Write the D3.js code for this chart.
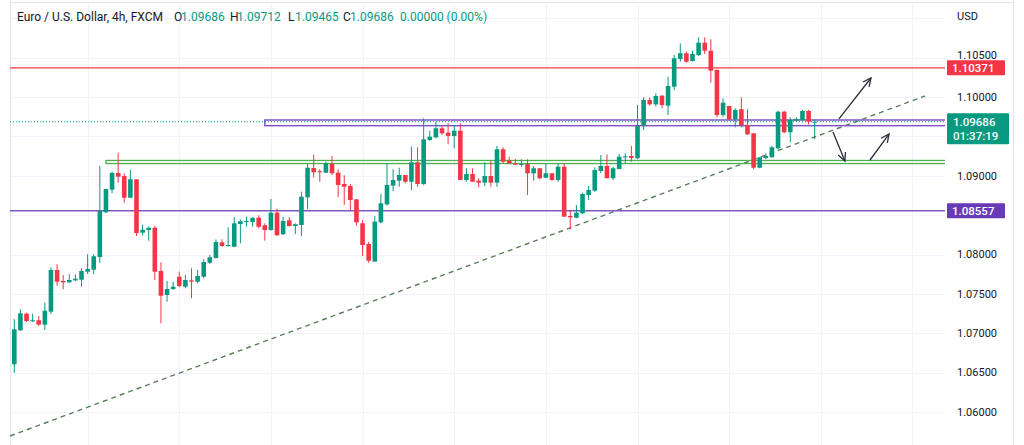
<!DOCTYPE html>
<html><head><meta charset="utf-8">
<script src="https://cdn.jsdelivr.net/npm/d3@7"></script>
<style>
body{margin:0;background:#fff;}
svg{display:block;font-family:Roboto,"Noto Sans",sans-serif;}
</style>
</head><body>
<svg id="c" width="1024" height="445"></svg>
<script>
// ---- data (EUR/USD 4h, FXCM) ----
const open = [
1.06606,1.07038,1.07248,1.07152,1.07165,1.07109,1.07274,1.07803,1.07664,1.07647,
1.07672,1.07680,1.07782,1.07807,1.07968,1.08536,1.08823,1.09035,1.08997,1.08721,
1.08955,1.08277,1.08311,1.08340,1.07791,1.07486,1.07562,1.07718,1.07591,1.07672,
1.07655,1.07718,1.07896,1.07956,1.08155,1.08108,1.08099,1.08387,1.08413,1.08413,
1.08467,1.08371,1.08311,1.08531,1.08257,1.08434,1.08362,1.08375,1.08726,1.09098,
1.09057,1.09039,1.09149,1.09039,1.08895,1.08870,1.08701,1.08396,1.08133,1.07909,
1.08409,1.08637,1.08874,1.08937,1.09010,1.08924,1.09171,1.08895,1.09454,1.09488,
1.09603,1.09547,1.09505,1.09572,1.08946,1.09022,1.08937,1.08912,1.08997,1.08912,
1.09336,1.09191,1.09158,1.09140,1.09149,1.09031,1.09095,1.08975,1.09031,1.08946,
1.09115,1.08489,1.08467,1.08523,1.08756,1.08810,1.09060,1.09124,1.08968,1.09086,
1.09234,1.09251,1.09222,1.09632,1.09962,1.09907,1.10017,1.09890,1.10131,1.10483,
1.10555,1.10457,1.10533,1.10690,1.10588,1.10343,1.09771,1.09886,1.09717,1.09844,
1.09644,1.09539,1.09102,1.09225,1.09234,1.09349,1.09813,1.09552,1.09699,1.09708,
1.09822,1.09686];
const high = [
1.07177,1.07304,1.07261,1.07248,1.07219,1.07388,1.07838,1.07876,1.07740,1.07752,
1.07749,1.07825,1.08003,1.08003,1.09124,1.08832,1.09051,1.09293,1.09031,1.09073,
1.08955,1.08378,1.08353,1.08362,1.07901,1.07664,1.07655,1.07782,1.07740,1.07825,
1.07803,1.07939,1.07994,1.08193,1.08193,1.08345,1.08472,1.08447,1.08480,1.08467,
1.08498,1.08396,1.08705,1.08582,1.08480,1.08472,1.08396,1.08797,1.09149,1.09267,
1.09082,1.09178,1.09251,1.09082,1.09006,1.08895,1.08701,1.08438,1.08163,1.08489,
1.08768,1.09158,1.09082,1.09102,1.09010,1.09369,1.09361,1.09730,1.09572,1.09686,
1.09644,1.09666,1.09644,1.09666,1.09095,1.09095,1.08968,1.09171,1.09187,1.09378,
1.09361,1.09242,1.09213,1.09209,1.09209,1.09124,1.09095,1.09158,1.09031,1.09158,
1.09158,1.08565,1.08629,1.08785,1.08870,1.09107,1.09264,1.09272,1.09115,1.09276,
1.09285,1.09378,1.09898,1.09996,1.09996,1.10047,1.10025,1.10258,1.10533,1.10682,
1.10575,1.10588,1.10758,1.10758,1.10733,1.10352,1.09983,1.09886,1.09857,1.09996,
1.09844,1.09539,1.09234,1.09285,1.09378,1.09826,1.09826,1.09742,1.09742,1.09835,
1.09835,1.09712];
const low = [
1.06499,1.07029,1.07143,1.07143,1.07096,1.07041,1.07245,1.07604,1.07558,1.07638,
1.07660,1.07591,1.07752,1.07752,1.07896,1.08527,1.08777,1.08912,1.08658,1.08721,
1.08235,1.08244,1.08175,1.07676,1.07126,1.07401,1.07549,1.07584,1.07571,1.07444,
1.07634,1.07698,1.07879,1.07947,1.08099,1.08099,1.08091,1.08142,1.08353,1.08353,
1.08333,1.08175,1.08302,1.08235,1.08248,1.08353,1.08260,1.08235,1.08578,1.08980,
1.08924,1.09031,1.09010,1.08726,1.08629,1.08565,1.08366,1.07981,1.07896,1.07909,
1.08396,1.08620,1.08803,1.08861,1.08904,1.08819,1.08861,1.08883,1.09445,1.09476,
1.09517,1.09399,1.09349,1.08946,1.08924,1.08924,1.08853,1.08870,1.08861,1.08861,
1.09158,1.09149,1.09133,1.09115,1.08756,1.08937,1.08955,1.08968,1.08937,1.08924,
1.08480,1.08320,1.08460,1.08514,1.08692,1.08797,1.09031,1.08968,1.08946,1.09082,
1.09158,1.09178,1.09209,1.09581,1.09890,1.09877,1.09857,1.09771,1.10089,1.10448,
1.10436,1.10448,1.10521,1.10546,1.10182,1.09742,1.09750,1.09708,1.09615,1.09615,
1.09517,1.09082,1.09095,1.09209,1.09234,1.09336,1.09539,1.09425,1.09686,1.09699,
1.09653,1.09465];
const close = [
1.07050,1.07253,1.07156,1.07165,1.07109,1.07286,1.07803,1.07655,1.07647,1.07676,
1.07693,1.07791,1.07816,1.07977,1.08552,1.08832,1.09035,1.08988,1.08721,1.08955,
1.08273,1.08315,1.08340,1.07782,1.07477,1.07562,1.07591,1.07600,1.07676,1.07655,
1.07727,1.07905,1.07965,1.08159,1.08108,1.08121,1.08396,1.08422,1.08425,1.08467,
1.08353,1.08311,1.08531,1.08244,1.08425,1.08362,1.08384,1.08734,1.09102,1.09044,
1.09044,1.09158,1.09031,1.08883,1.08861,1.08692,1.08409,1.08121,1.07921,1.08417,
1.08650,1.08883,1.08946,1.09010,1.08924,1.09171,1.08895,1.09463,1.09496,1.09603,
1.09539,1.09505,1.09572,1.08946,1.09022,1.08924,1.08912,1.08997,1.08912,1.09336,
1.09178,1.09158,1.09140,1.09149,1.09031,1.09095,1.08968,1.09031,1.08946,1.09115,
1.08480,1.08472,1.08531,1.08768,1.08819,1.09073,1.09124,1.08968,1.09095,1.09242,
1.09247,1.09225,1.09632,1.09962,1.09907,1.10013,1.09898,1.10140,1.10491,1.10555,
1.10448,1.10546,1.10690,1.10588,1.10334,1.09771,1.09928,1.09717,1.09835,1.09644,
1.09526,1.09102,1.09234,1.09251,1.09361,1.09813,1.09552,1.09708,1.09721,1.09822,
1.09686,1.09686];

const gridPrices = [1.060,1.065,1.070,1.075,1.080,1.085,1.090,1.095,1.100,1.105,1.110];
const tickPrices = [1.060,1.065,1.070,1.075,1.080,1.090,1.100,1.105];
const tickLabels = ["1.06000","1.06500","1.07000","1.07500","1.08000","1.09000","1.10000","1.10500"];
const gridBars = [12,27,42,57,72,87,102,117,132,147];

const header = [
  {t:"Euro / U.S. Dollar, 4h, FXCM", c:"#131722"},
  {t:"O", c:"#131722"},{t:"1.09686", c:"#089981"},
  {t:"H", c:"#131722"},{t:"1.09712", c:"#089981"},
  {t:"L", c:"#131722"},{t:"1.09465", c:"#089981"},
  {t:"C", c:"#131722"},{t:"1.09686", c:"#089981"},
  {t:"0.00000 (0.00%)", c:"#089981"}
];
const headerX = [17,174,181,230,237,288,295,343,350,400];

const resistance = 1.10371, support = 1.08557, lastPrice = 1.09686, countdown = "01:37:19";
const purpleZone = {from:41, top:1.09708, bottom:1.09636};
const greenZone = {from:15, top:1.09194, bottom:1.09155};
const trend = [{i:-0.70, p:1.05695},{i:149.05, p:1.10013}];
const arrows = [
  [{i:134.97,p:1.09721},{i:140.21,p:1.10241}],
  [{i:133.99,p:1.09556},{i:135.95,p:1.09187}],
  [{i:140.05,p:1.09200},{i:143.16,p:1.09530}]
];

// ---- drawing ----
const W=1024,H=445, L=10, R=945, T=3, B=445;
const GREEN="#089981", RED="#f23645", PURPLE="#7e57c2";
const svg = d3.select("#c");
const x = d3.scaleLinear().domain([0,131]).range([14.3,814.7]);
const y = d3.scaleLinear().domain([1.06,1.10]).range([412,97]);

svg.append("defs").append("clipPath").attr("id","plot")
  .append("rect").attr("x",L).attr("y",T).attr("width",R-L).attr("height",B-T);

// grid
const grid = svg.append("g").attr("clip-path","url(#plot)");
grid.selectAll("line.h").data(gridPrices).join("line")
  .attr("x1",L).attr("x2",R).attr("y1",d=>Math.round(y(d))+0.5).attr("y2",d=>Math.round(y(d))+0.5)
  .attr("stroke","#f0f3fa").attr("stroke-width",1);
grid.selectAll("line.v").data(gridBars).join("line")
  .attr("y1",T).attr("y2",B).attr("x1",d=>Math.round(x(d))+0.5).attr("x2",d=>Math.round(x(d))+0.5)
  .attr("stroke","#f0f3fa").attr("stroke-width",1);

// frame
svg.append("line").attr("x1",L+0.5).attr("x2",L+0.5).attr("y1",0).attr("y2",H).attr("stroke","#e0e3eb");
svg.append("line").attr("x1",L).attr("x2",1014).attr("y1",2.5).attr("y2",2.5).attr("stroke","#e0e3eb");
svg.append("line").attr("x1",1013.5).attr("x2",1013.5).attr("y1",0).attr("y2",H).attr("stroke","#e0e3eb");

const plot = svg.append("g").attr("clip-path","url(#plot)");

// trend line
plot.append("line")
  .attr("x1",x(trend[0].i)).attr("y1",y(trend[0].p)).attr("x2",x(trend[1].i)).attr("y2",y(trend[1].p))
  .attr("stroke","#5a7f5b").attr("stroke-width",1.4).attr("stroke-dasharray","5,4");

// horizontal levels
plot.append("line").attr("x1",L).attr("x2",R).attr("y1",y(resistance)).attr("y2",y(resistance))
  .attr("stroke",RED).attr("stroke-width",1.2);
plot.append("line").attr("x1",L).attr("x2",R).attr("y1",y(support)).attr("y2",y(support))
  .attr("stroke",PURPLE).attr("stroke-width",1.5);
plot.append("line").attr("x1",L).attr("x2",R).attr("y1",y(lastPrice)).attr("y2",y(lastPrice))
  .attr("stroke",GREEN).attr("stroke-width",1).attr("stroke-dasharray","1,2");

// zones
plot.append("rect").attr("x",x(purpleZone.from)).attr("y",y(purpleZone.top))
  .attr("width",R+5-x(purpleZone.from)).attr("height",y(purpleZone.bottom)-y(purpleZone.top))
  .attr("fill","none").attr("stroke",PURPLE).attr("stroke-width",1.5);
plot.append("rect").attr("x",x(greenZone.from)).attr("y",y(greenZone.top))
  .attr("width",R+5-x(greenZone.from)).attr("height",y(greenZone.bottom)-y(greenZone.top))
  .attr("fill","none").attr("stroke","#4caf50").attr("stroke-width",1.3);

// candles
const idx = d3.range(open.length);
const col = i => close[i] >= open[i] ? GREEN : RED;
plot.selectAll("line.wick").data(idx).join("line")
  .attr("x1",i=>x(i)).attr("x2",i=>x(i)).attr("y1",i=>y(high[i])).attr("y2",i=>y(low[i]))
  .attr("stroke",i=>col(i)).attr("stroke-width",1);
plot.selectAll("rect.body").data(idx).join("rect")
  .attr("x",i=>x(i)-2.3).attr("width",4.6)
  .attr("y",i=>y(Math.max(open[i],close[i])))
  .attr("height",i=>Math.max(1,Math.abs(y(open[i])-y(close[i]))))
  .attr("fill",i=>col(i));

// arrows
arrows.forEach(a=>{
  const x1=x(a[0].i), y1=y(a[0].p), x2=x(a[1].i), y2=y(a[1].p);
  const ang=Math.atan2(y2-y1,x2-x1), hl=9, sp=Math.PI/7;
  const g=plot.append("g").attr("stroke","#2a2e39").attr("stroke-width",1.3).attr("fill","none");
  g.append("line").attr("x1",x1).attr("y1",y1).attr("x2",x2).attr("y2",y2);
  g.append("path").attr("d",`M${x2-hl*Math.cos(ang-sp)},${y2-hl*Math.sin(ang-sp)}L${x2},${y2}L${x2-hl*Math.cos(ang+sp)},${y2-hl*Math.sin(ang+sp)}`);
});

// price axis labels
const ax = svg.append("g").attr("font-size","11px").attr("fill","#131722");
ax.selectAll("text").data(tickPrices).join("text")
  .attr("x",957).attr("y",d=>y(d) - (d===1.105 ? 2 : 0)).attr("dy","0.35em").text((d,i)=>tickLabels[i]);
svg.append("text").attr("x",957).attr("y",16).attr("dy","0.35em").attr("font-size","11px").attr("fill","#131722").text("USD");

function tag(price, color, lines){
  const cy=y(price), h = lines.length===1?15:31;
  const top = lines.length===1 ? cy-7.5 : cy-8.5;
  svg.append("rect").attr("x",947).attr("y",top).attr("width",lines.length===1?58:62).attr("height",h)
    .attr("fill",color).attr("rx",1);
  lines.forEach((t,k)=>svg.append("text").attr("x",lines.length===1?952:953).attr("y",cy+k*14.5).attr("dy","0.35em")
    .attr("font-size","11.5px").attr("font-weight",500).attr("fill","#fff").text(t));
}
tag(resistance, RED, [d3.format(".5f")(resistance)]);
tag(lastPrice, GREEN, [d3.format(".5f")(lastPrice), countdown]);
tag(support, "#673ab7", [d3.format(".5f")(support)]);

// header
svg.append("g").attr("font-size","12px").selectAll("text").data(header).join("text")
  .attr("x",(d,i)=>headerX[i]).attr("y",17).attr("dy","0.35em").attr("fill",d=>d.c).text(d=>d.t);
</script>
</body></html>
